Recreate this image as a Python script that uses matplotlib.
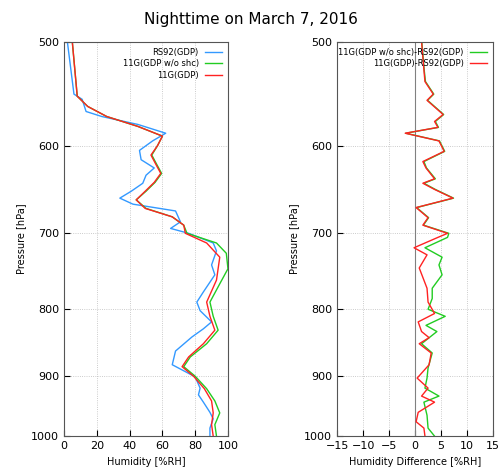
import matplotlib
matplotlib.use("Agg")
import matplotlib.pyplot as plt
import numpy as np

# left panel: humidity profiles (pressure hPa, %RH)
p_rs92 = [500, 548, 553, 565, 570, 578, 587, 595, 605, 615, 624, 632, 641, 650, 658, 665, 673, 686, 694, 700,
          712, 722, 740, 753, 776, 790, 802, 818, 828, 840, 861, 882, 901, 919, 930, 942, 959, 970, 986, 1000]
rh_rs92 = [2, 6, 11, 13.4, 23, 45, 62, 54, 46, 47, 55, 50, 48, 41, 34, 42, 68, 71, 65, 76,
           91, 93, 90, 92, 85, 81, 83, 90, 85, 78, 68, 66, 80, 83, 82, 85, 89, 91, 89, 89]

p_11g = [500, 550, 560, 570, 580, 590, 600, 610, 620, 630, 640, 650, 660, 670, 680, 690, 700,
         712, 730, 760, 790, 810, 830, 850, 870, 885, 900, 920, 940, 960, 980, 1000]
rh_11g = [5, 8, 14.4, 26, 45, 60, 57, 53, 56, 59, 55, 49.5, 44, 49.5, 66, 73, 74,
          87, 95, 93, 87, 89, 92, 85, 76, 72, 79, 85.6, 90, 91, 90, 91]

p_11g_noshc = [500, 550, 560, 570, 580, 590, 600, 610, 620, 630, 640, 650, 660, 670, 680, 690, 700,
               712, 725, 745, 765, 790, 810, 830, 850, 870, 885, 900, 920, 940, 960, 980, 1000]
rh_11g_noshc = [5, 8, 14.4, 26, 45, 60, 57, 53.5, 56.5, 59.5, 55.5, 50, 44, 50, 66, 73, 75,
                93, 99, 100, 95, 89, 91, 94, 87, 77, 73, 80, 87, 92, 95, 92, 93]

# right panel: differences
p_diff_red = [500, 525, 536, 548, 554, 568, 575, 581, 587, 595, 606, 617, 624, 636, 641, 648, 658, 669, 681, 690,
              700, 705, 718, 727, 744, 771, 790, 806, 818, 832, 841, 850, 864, 882, 903, 919, 932, 942, 959, 975, 986, 1000]
d_red = [1.25, 1.7, 1.9, 3.5, 2.3, 5.4, 3.75, 4.4, -1.9, 4.6, 5.6, 1.5, 2.1, 3.75, 1.5, 3.75, 7.3, 0.2, 2.5, 1.5,
         6.25, 4.4, -0.2, 2.3, 0.8, 2.3, 2.5, 3.75, 0.6, 1.25, 2.7, 0.8, 3.1, 2.7, 0.4, 2.5, 1.25, 3.75, 0.6, 0.2, 1.7, 1.9]

p_diff_green = [500, 525, 536, 548, 554, 568, 575, 581, 587, 595, 606, 617, 624, 636, 641, 648, 658, 669, 681, 690,
                700, 705, 718, 730, 740, 753, 771, 785, 800, 810, 823, 832, 850, 864, 887, 903, 919, 932, 942, 964, 986, 1000]
d_green = [1.3, 1.75, 2.0, 3.6, 2.4, 5.5, 3.9, 4.5, -1.8, 4.7, 5.7, 1.7, 2.2, 3.9, 1.7, 3.9, 7.4, 0.3, 2.6, 1.6,
           6.5, 6.25, 1.9, 5.2, 4.6, 5.2, 3.3, 3.3, 2.5, 5.8, 2.1, 4.2, 1.25, 3.3, 2.5, 2.3, 1.9, 4.6, 1.7, 2.3, 2.5, 3.75]

yticks = [500, 600, 700, 800, 900, 1000]
blue, green, red = "#3399ff", "#22cc22", "#ff2222"

fig = plt.figure(figsize=(5.01, 4.72), dpi=100)
fig.suptitle("Nighttime on March 7, 2016", y=0.975, fontsize=11)
ax1 = fig.add_axes([0.128, 0.076, 0.327, 0.835])
ax2 = fig.add_axes([0.673, 0.076, 0.311, 0.835])

ax1.plot(rh_rs92, p_rs92, color=blue, lw=1, label="RS92(GDP)")
ax1.plot(rh_11g_noshc, p_11g_noshc, color=green, lw=1, label="11G(GDP w/o shc)")
ax1.plot(rh_11g, p_11g, color=red, lw=1, label="11G(GDP)")
ax1.set_xlim(0, 100)
ax1.set_xticks([0, 20, 40, 60, 80, 100])
ax1.set_xlabel("Humidity [%RH]", fontsize=7)

ax2.axvline(0, color="gray", lw=0.8)
ax2.plot(d_green, p_diff_green, color=green, lw=1, label="11G(GDP w/o shc)-RS92(GDP)")
ax2.plot(d_red, p_diff_red, color=red, lw=1, label="11G(GDP)-RS92(GDP)")
ax2.set_xlim(-15, 15)
ax2.set_xticks([-15, -10, -5, 0, 5, 10, 15])
ax2.set_xlabel("Humidity Difference [%RH]", fontsize=7)

for ax in (ax1, ax2):
    ax.set_yscale("log")
    ax.set_ylim(1000, 500)
    ax.set_yticks(yticks)
    ax.set_yticklabels([str(t) for t in yticks])
    ax.minorticks_off()
    ax.set_ylabel("Pressure [hPa]", fontsize=7)
    ax.tick_params(labelsize=8, direction="in", length=4)
    ax.grid(True, ls=":", color="#bbbbbb", lw=0.6)
    for s in ax.spines.values():
        s.set_color("#555555")
    ax.legend(loc="upper right", fontsize=6, frameon=False, markerfirst=False,
              handlelength=2, borderpad=0.2, labelspacing=0.3)

fig.savefig("out.png", dpi=100)
